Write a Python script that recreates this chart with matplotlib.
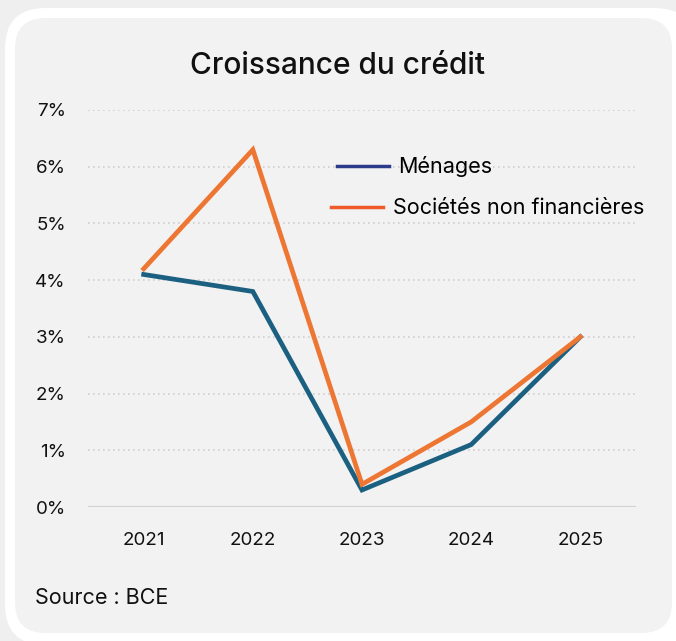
import matplotlib.pyplot as plt
from matplotlib.patches import FancyBboxPatch
from matplotlib.lines import Line2D

years = ["2021", "2022", "2023", "2024", "2025"]
menages = [4.1, 3.8, 0.3, 1.1, 3.0]
societes = [4.2, 6.3, 0.4, 1.5, 3.0]
y_ticks = [0, 1, 2, 3, 4, 5, 6, 7]

W, H = 676, 641
plt.rcParams["font.family"] = ["Inter", "DejaVu Sans"]

fig = plt.figure(figsize=(W / 100, H / 100), dpi=100, facecolor="#efefef")

# card background: white border, light grey inside
outer = FancyBboxPatch((5 / W, 1 - 645 / H), 690 / W, 637 / H,
                       boxstyle="round,pad=0,rounding_size=0.06",
                       transform=fig.transFigure, facecolor="white",
                       edgecolor="none", mutation_aspect=W / H, zorder=-10)
inner = FancyBboxPatch((15 / W, 1 - 633 / H), 657 / W, 615 / H,
                       boxstyle="round,pad=0,rounding_size=0.045",
                       transform=fig.transFigure, facecolor="#f2f2f2",
                       edgecolor="none", mutation_aspect=W / H, zorder=-9)
fig.patches.extend([outer, inner])

ax = fig.add_axes([88 / W, 1 - 507 / H, (636 - 88) / W, (507 - 110) / H])
ax.set_facecolor("none")
ax.set_zorder(1)

x = list(range(len(years)))
ax.plot(x, menages, color="#1b6080", lw=3.4, solid_joinstyle="miter", clip_on=False)
ax.plot(x, societes, color="#ee7633", lw=3.4, solid_joinstyle="miter", clip_on=False)

ax.set_xlim(-0.51, 4.51)
ax.set_ylim(0, 7)
ax.set_xticks(x)
ax.set_xticklabels(years)
ax.set_yticks(y_ticks)
ax.set_yticklabels([f"{v}%" for v in y_ticks])
ax.tick_params(axis="both", length=0, labelsize=13.5, colors="#111111")
ax.tick_params(axis="y", pad=16)
ax.tick_params(axis="x", pad=18)

for s in ax.spines.values():
    s.set_visible(False)
for v in y_ticks[1:]:
    ax.axhline(v, color="#cfcfcf", lw=1.2, ls=(0, (1, 2)), zorder=0)
ax.axhline(0, color="#d2d2d2", lw=1.5, zorder=0)

# two legend rows, the second sits a few pixels further left
rows = [("Ménages", "#2b3a8a", 320, 139), ("Sociétés non financières", "#f05a2a", 314, 181)]
for label, col, lx, ly in rows:
    fig.legend([Line2D([], [], color=col, lw=2.5)], [label],
               loc="upper left", bbox_to_anchor=(lx / W, 1 - ly / H),
               frameon=False, fontsize=15.5, handlelength=2.4, handletextpad=0.45,
               borderpad=0.3)

fig.text(337 / W, 1 - 66 / H, "Croissance du crédit", ha="center", va="center",
         fontsize=21.5, fontweight="medium", color="#111111")
fig.text(35 / W, 1 - 598 / H, "Source : BCE", ha="left", va="center",
         fontsize=15.5, color="#111111")

fig.savefig("out.png", dpi=100, facecolor=fig.get_facecolor())
